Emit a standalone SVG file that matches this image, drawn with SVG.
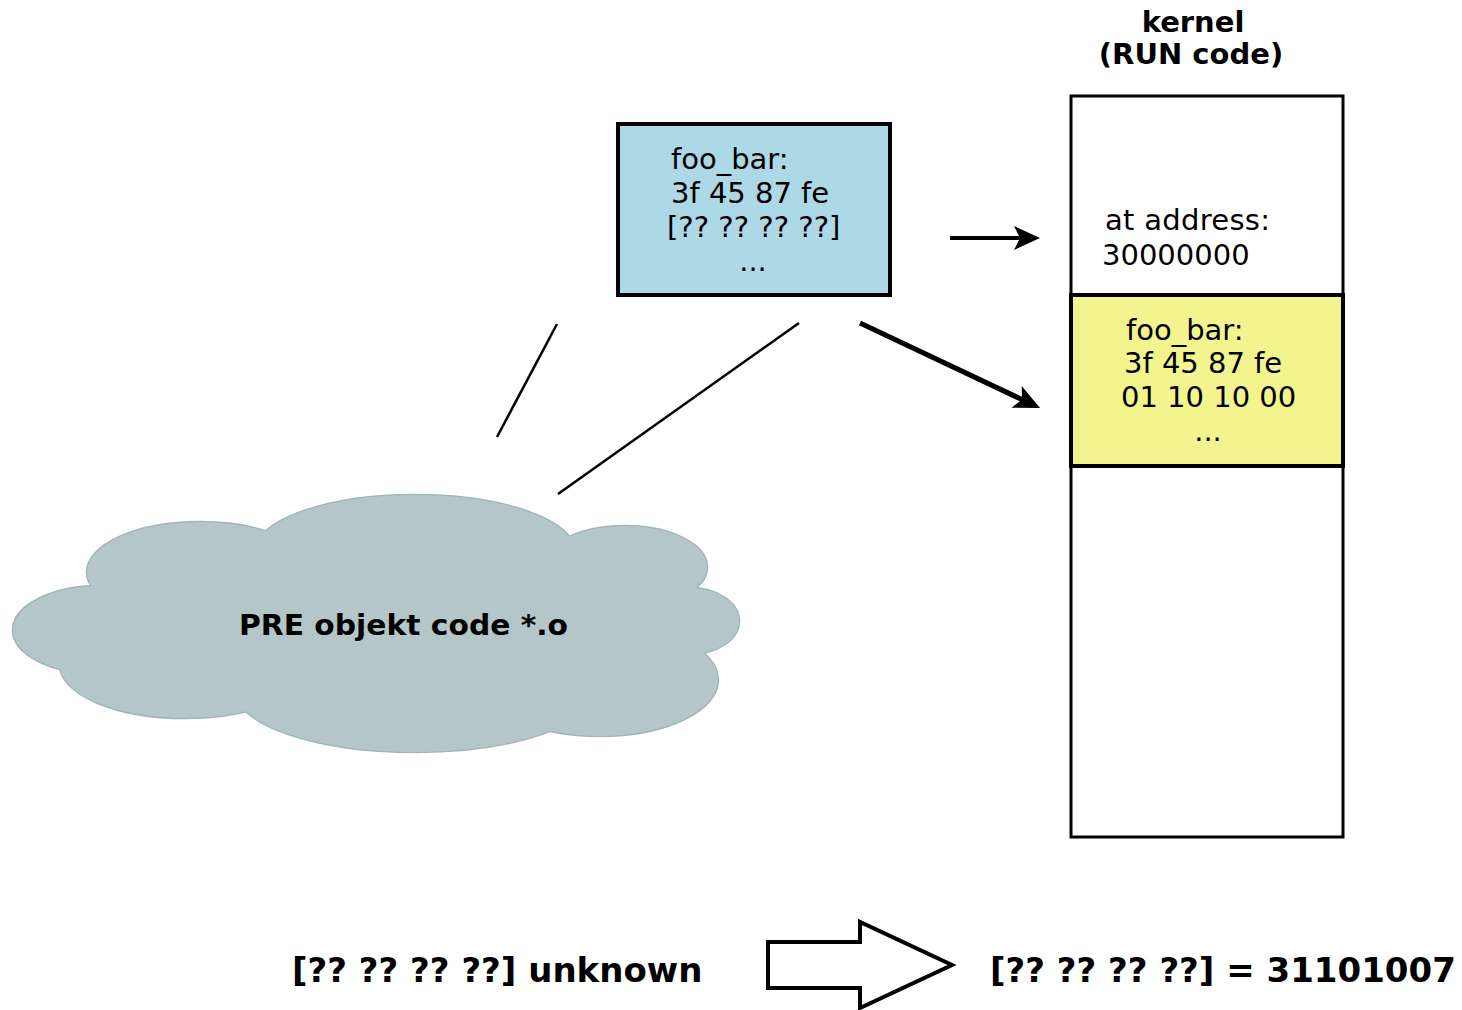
<svg xmlns="http://www.w3.org/2000/svg" width="1462" height="1010" viewBox="0 0 1462 1010">
  <style>
    .t { font-family: "DejaVu Sans", "Liberation Sans", sans-serif; font-size: 29px; fill: #000; }
    .b { font-family: "DejaVu Sans", "Liberation Sans", sans-serif; font-weight: bold; fill: #000; }
    .box { stroke: #000; stroke-width: 4; }
    .thin { stroke: #000; stroke-width: 2.5; fill: none; }
    .lobe { fill: #b4c6c8; }
  </style>
  <defs>
    <marker id="head" markerUnits="userSpaceOnUse" orient="auto" markerWidth="30" markerHeight="30" refX="6" refY="0" viewBox="-1 -14 30 28" overflow="visible">
      <path d="M0,-12 L26,0 L0,12 L6,0 Z" fill="#000"/>
    </marker>
    <g id="lobes">
      <ellipse cx="200" cy="572" rx="113" ry="50"/>
      <ellipse cx="415" cy="552" rx="160" ry="57"/>
      <ellipse cx="625" cy="567" rx="82" ry="41"/>
      <ellipse cx="690" cy="621" rx="49" ry="33"/>
      <ellipse cx="100" cy="630" rx="87" ry="44"/>
      <ellipse cx="185" cy="665" rx="125" ry="53"/>
      <ellipse cx="415" cy="690" rx="180" ry="62"/>
      <ellipse cx="600" cy="680" rx="118" ry="56"/>
      <ellipse cx="390" cy="620" rx="290" ry="80"/>
    </g>
  </defs>

  <rect width="1462" height="1010" fill="#fff"/>

  <!-- object-code cloud: outlined lobes, then the same lobes filled on top -->
  <g id="cloud">
    <use href="#lobes" class="lobe" stroke="#9fb4b6" stroke-width="2.5"/>
    <use href="#lobes" class="lobe"/>
    <text class="b" x="239" y="635" font-size="28" textLength="329" lengthAdjust="spacingAndGlyphs">PRE objekt code *.o</text>
  </g>

  <!-- unresolved symbol in the object file -->
  <g id="pre-symbol">
    <rect class="box" x="618" y="124" width="272" height="171" fill="#add8e6"/>
    <text class="t" x="671" y="169">foo_bar:</text>
    <text class="t" x="671" y="203">3f 45 87 fe</text>
    <text class="t" x="667" y="237">[?? ?? ?? ??]</text>
    <text class="t" x="753" y="271" text-anchor="middle">...</text>
  </g>

  <!-- kernel memory column -->
  <g id="kernel">
    <text class="b" x="1193" y="32" font-size="29" text-anchor="middle">kernel</text>
    <text class="b" x="1191" y="64" font-size="29" text-anchor="middle">(RUN code)</text>
    <rect x="1071" y="96" width="272" height="741" fill="#fff" stroke="#000" stroke-width="3"/>
    <text class="t" x="1105" y="230" textLength="165" lengthAdjust="spacing">at address:</text>
    <text class="t" x="1102" y="265">30000000</text>
  </g>

  <!-- resolved symbol placed in kernel memory -->
  <g id="run-symbol">
    <rect class="box" x="1071" y="295" width="272" height="171" fill="#f4f48e"/>
    <text class="t" x="1126" y="340">foo_bar:</text>
    <text class="t" x="1124" y="373">3f 45 87 fe</text>
    <text class="t" x="1121" y="407">01 10 10 00</text>
    <text class="t" x="1208" y="441" text-anchor="middle">...</text>
  </g>

  <g id="connectors">
    <line class="thin" x1="557" y1="324" x2="497" y2="437"/>
    <line class="thin" x1="799" y1="323" x2="558" y2="494"/>
    <line x1="950" y1="238" x2="1020" y2="238" stroke="#000" stroke-width="4" marker-end="url(#head)"/>
    <line x1="860" y1="323" x2="1022" y2="399.5" stroke="#000" stroke-width="5" marker-end="url(#head)"/>
  </g>

  <!-- bottom legend -->
  <g id="legend">
    <text class="b" x="292" y="982" font-size="34">[?? ?? ?? ??] unknown</text>
    <path d="M768,942 L860,942 L860,922 L952,965 L860,1008 L860,988 L768,988 Z" fill="#fff" stroke="#000" stroke-width="4" stroke-linejoin="miter"/>
    <text class="b" x="990" y="982" font-size="34">[?? ?? ?? ??] = 31101007</text>
  </g>
</svg>
